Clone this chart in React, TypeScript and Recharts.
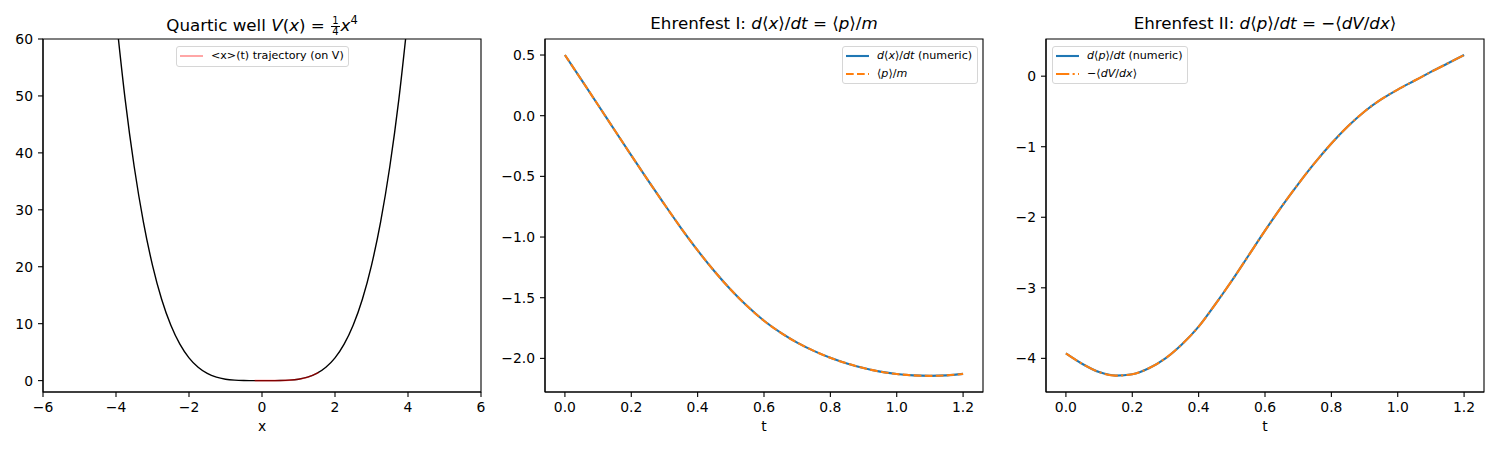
import React from "react";
import { LineChart, Line, XAxis, YAxis, ReferenceArea } from "recharts";

// time grid shared by both Ehrenfest panels
const tGrid = [
  0, 0.05, 0.1, 0.15, 0.2, 0.25, 0.3, 0.35, 0.4, 0.45, 0.5, 0.55, 0.6, 0.65,
  0.7, 0.75, 0.8, 0.85, 0.9, 0.95, 1.0, 1.05, 1.1, 1.15, 1.2,
];

const dxdtNumeric = [
  0.5, 0.295, 0.088, -0.12, -0.327, -0.531, -0.731, -0.926, -1.11, -1.28,
  -1.434, -1.571, -1.69, -1.788, -1.87, -1.938, -1.995, -2.042, -2.08, -2.109,
  -2.129, -2.14, -2.144, -2.14, -2.128,
];
const pOverM = [
  0.5, 0.295, 0.088, -0.12, -0.327, -0.531, -0.731, -0.926, -1.11, -1.28,
  -1.434, -1.571, -1.69, -1.788, -1.87, -1.938, -1.995, -2.042, -2.08, -2.109,
  -2.129, -2.14, -2.144, -2.14, -2.128,
];

const dpdtNumeric = [
  -3.93, -4.08, -4.195, -4.245, -4.225, -4.14, -4.0, -3.8, -3.55, -3.235,
  -2.9, -2.545, -2.19, -1.85, -1.53, -1.23, -0.955, -0.71, -0.5, -0.33,
  -0.19, -0.065, 0.06, 0.18, 0.3,
];
const minusDVdx = [
  -3.93, -4.08, -4.195, -4.245, -4.225, -4.14, -4.0, -3.8, -3.55, -3.235,
  -2.9, -2.545, -2.19, -1.85, -1.53, -1.23, -0.955, -0.71, -0.5, -0.33,
  -0.19, -0.065, 0.06, 0.18, 0.3,
];

// quartic well, V(x)
const wellX = [
  -4, -3.75, -3.5, -3.25, -3, -2.75, -2.5, -2.25, -2, -1.75, -1.5, -1.25, -1,
  -0.75, -0.5, -0.25, 0, 0.25, 0.5, 0.75, 1, 1.25, 1.5, 1.75, 2, 2.25, 2.5,
  2.75, 3, 3.25, 3.5, 3.75, 4,
];
const wellV = [
  64, 49.44, 37.52, 27.89, 20.25, 14.3, 9.77, 6.41, 4.0, 2.345, 1.266, 0.61,
  0.25, 0.079, 0.016, 0.001, 0, 0.001, 0.016, 0.079, 0.25, 0.61, 1.266, 2.345,
  4.0, 6.41, 9.77, 14.3, 20.25, 27.89, 37.52, 49.44, 64,
];

// <x>(t) trajectory drawn on V
const trajX = [-0.2, 0, 0.25, 0.5, 0.75, 1.0, 1.25, 1.5, 1.55];
const trajV = [0.0004, 0, 0.001, 0.016, 0.079, 0.25, 0.61, 1.266, 1.43];

const wellTicksX = [-6, -4, -2, 0, 2, 4, 6];
const wellTicksY = [0, 10, 20, 30, 40, 50, 60];
const tTicks = [0, 0.2, 0.4, 0.6, 0.8, 1.0, 1.2];
const ehr1TicksY = [0.5, 0, -0.5, -1, -1.5, -2];
const ehr2TicksY = [0, -1, -2, -3, -4];

const wellData = wellX.map((x, i) => ({ x, v: wellV[i] }));
const trajData = trajX.map((x, i) => ({ x, v: trajV[i] }));
const ehr1Data = tGrid.map((t, i) => ({ t, num: dxdtNumeric[i], ana: pOverM[i] }));
const ehr2Data = tGrid.map((t, i) => ({ t, num: dpdtNumeric[i], ana: minusDVdx[i] }));

const FONT = "'DejaVu Sans', sans-serif";
const BLUE = "#1f77b4";
const ORANGE = "#ff7f0e";
const TOP = 39;
const BOTTOM = 392;
const YW = 50;
const PW = 438;

const fmt = (d: number) => (v: number) => v.toFixed(d).replace("-", "\u2212");

const tickStyle = { fontSize: 13.9, fill: "#000", fontFamily: FONT };
const tickLine = { stroke: "#000", strokeWidth: 1.1 };
const axisLine = { stroke: "#000", strokeWidth: 1.1 };

function Frame({ xd, yd }: { xd: number[]; yd: number[] }) {
  return (
    <ReferenceArea
      x1={xd[0]}
      x2={xd[1]}
      y1={yd[0]}
      y2={yd[1]}
      fill="none"
      fillOpacity={0}
      stroke="#000"
      strokeWidth={1.1}
      ifOverflow="visible"
    />
  );
}

function Frac() {
  return (
    <span
      style={{
        display: "inline-flex",
        flexDirection: "column",
        alignItems: "center",
        fontSize: 10,
        lineHeight: "10px",
        verticalAlign: "middle",
        margin: "0 1px",
      }}
    >
      <span style={{ borderBottom: "1px solid #000", padding: "0 1px" }}>1</span>
      <span>4</span>
    </span>
  );
}

function Title({ center, children }: { center: number; children: React.ReactNode }) {
  return (
    <div
      style={{
        position: "absolute",
        left: center - 250,
        width: 500,
        top: 13,
        textAlign: "center",
        fontFamily: FONT,
        fontSize: 16.7,
        color: "#000",
        whiteSpace: "nowrap",
      }}
    >
      {children}
    </div>
  );
}

interface LegendItem {
  color: string;
  dash?: string;
  width: number;
  label: React.ReactNode;
}

function Legend({ left, top, width, items }: { left: number; top: number; width: number; items: LegendItem[] }) {
  return (
    <div
      style={{
        position: "absolute",
        left,
        top,
        width,
        background: "rgba(255,255,255,0.8)",
        border: "1px solid #d6d6d6",
        borderRadius: 3,
        boxSizing: "border-box",
        padding: "0 0 1px 3px",
        fontFamily: FONT,
        fontSize: 11.1,
        color: "#000",
      }}
    >
      {items.map((it, i) => (
        <div key={i} style={{ display: "flex", alignItems: "center", height: 17.7, whiteSpace: "nowrap" }}>
          <svg width={23} height={6} style={{ marginRight: 8 }}>
            <line x1={0} x2={23} y1={3} y2={3} stroke={it.color} strokeWidth={it.width} strokeDasharray={it.dash} />
          </svg>
          <span>{it.label}</span>
        </div>
      ))}
    </div>
  );
}

const I = ({ children }: { children: React.ReactNode }) => <i>{children}</i>;

export default function App() {
  const wellXd = [-6, 6];
  const wellYd = [-2, 60];
  const tXd = [-0.06, 1.26];
  const e1Yd = [-2.277, 0.632];
  const e2Yd = [-4.477, 0.527];

  const chartProps = (w: number) => ({
    width: w,
    height: 450,
    margin: { top: TOP, right: 5, bottom: 0, left: 0 },
  });

  return (
    <div style={{ position: "absolute", left: 0, top: 0, width: 1500, height: 450, background: "#fff", overflow: "hidden" }}>
      {/* panel 1: quartic well */}
      <div style={{ position: "absolute", left: 43 - YW, top: 0 }}>
        <LineChart {...chartProps(YW + PW + 5)}>
          <XAxis
            type="number"
            dataKey="x"
            domain={wellXd}
            ticks={wellTicksX}
            allowDataOverflow
            height={450 - BOTTOM}
            tick={tickStyle}
            tickLine={tickLine}
            axisLine={axisLine}
            tickSize={5}
            tickMargin={5}
            tickFormatter={fmt(0)}
            label={{ value: "x", position: "insideBottom", offset: 19, fill: "#000", fontSize: 13.9, fontFamily: FONT }}
          />
          <YAxis
            type="number"
            domain={wellYd}
            ticks={wellTicksY}
            allowDataOverflow
            width={YW}
            tick={tickStyle}
            tickLine={tickLine}
            axisLine={axisLine}
            tickSize={5}
            tickMargin={5}
            tickFormatter={fmt(0)}
          />
          <Line data={wellData} dataKey="v" type="monotone" stroke="#000" strokeWidth={1.4} dot={false} isAnimationActive={false} />
          <Line data={trajData} dataKey="v" type="monotone" stroke="rgba(255,0,0,0.5)" strokeWidth={1.6} dot={false} isAnimationActive={false} />
          <Frame xd={wellXd} yd={wellYd} />
        </LineChart>
      </div>

      {/* panel 2: Ehrenfest I */}
      <div style={{ position: "absolute", left: 545 - YW, top: 0 }}>
        <LineChart data={ehr1Data} {...chartProps(YW + PW + 5)}>
          <XAxis
            type="number"
            dataKey="t"
            domain={tXd}
            ticks={tTicks}
            allowDataOverflow
            height={450 - BOTTOM}
            tick={tickStyle}
            tickLine={tickLine}
            axisLine={axisLine}
            tickSize={5}
            tickMargin={5}
            tickFormatter={fmt(1)}
            label={{ value: "t", position: "insideBottom", offset: 19, fill: "#000", fontSize: 13.9, fontFamily: FONT }}
          />
          <YAxis
            type="number"
            domain={e1Yd}
            ticks={ehr1TicksY}
            allowDataOverflow
            width={YW}
            tick={tickStyle}
            tickLine={tickLine}
            axisLine={axisLine}
            tickSize={5}
            tickMargin={5}
            tickFormatter={fmt(1)}
          />
          <Line dataKey="num" type="monotone" stroke={BLUE} strokeWidth={2.1} dot={false} isAnimationActive={false} />
          <Line dataKey="ana" type="monotone" stroke={ORANGE} strokeWidth={2.1} strokeDasharray="7.7 3.3" dot={false} isAnimationActive={false} />
          <Frame xd={tXd} yd={e1Yd} />
        </LineChart>
      </div>

      {/* panel 3: Ehrenfest II */}
      <div style={{ position: "absolute", left: 1046 - YW, top: 0 }}>
        <LineChart data={ehr2Data} {...chartProps(YW + PW + 5)}>
          <XAxis
            type="number"
            dataKey="t"
            domain={tXd}
            ticks={tTicks}
            allowDataOverflow
            height={450 - BOTTOM}
            tick={tickStyle}
            tickLine={tickLine}
            axisLine={axisLine}
            tickSize={5}
            tickMargin={5}
            tickFormatter={fmt(1)}
            label={{ value: "t", position: "insideBottom", offset: 19, fill: "#000", fontSize: 13.9, fontFamily: FONT }}
          />
          <YAxis
            type="number"
            domain={e2Yd}
            ticks={ehr2TicksY}
            allowDataOverflow
            width={YW}
            tick={tickStyle}
            tickLine={tickLine}
            axisLine={axisLine}
            tickSize={5}
            tickMargin={5}
            tickFormatter={fmt(0)}
          />
          <Line dataKey="num" type="monotone" stroke={BLUE} strokeWidth={2.1} dot={false} isAnimationActive={false} />
          <Line dataKey="ana" type="monotone" stroke={ORANGE} strokeWidth={2.1} strokeDasharray="13.3 3.3 2.1 3.3" dot={false} isAnimationActive={false} />
          <Frame xd={tXd} yd={e2Yd} />
        </LineChart>
      </div>

      <Title center={262}>
        Quartic well <I>V</I>(<I>x</I>) = <Frac />
        <I>x</I>
        <sup style={{ fontSize: 11.5 }}>4</sup>
      </Title>
      <Title center={764}>
        Ehrenfest I: <I>d</I>⟨<I>x</I>⟩/<I>dt</I> = ⟨<I>p</I>⟩/<I>m</I>
      </Title>
      <Title center={1265}>
        Ehrenfest II: <I>d</I>⟨<I>p</I>⟩/<I>dt</I> = −⟨<I>dV</I>/<I>dx</I>⟩
      </Title>

      <Legend
        left={176}
        top={46}
        width={173}
        items={[{ color: "rgba(255,0,0,0.5)", width: 1.4, label: "<x>(t) trajectory (on V)" }]}
      />
      <Legend
        left={842}
        top={46}
        width={136}
        items={[
          { color: BLUE, width: 2.1, label: <><I>d</I>⟨<I>x</I>⟩/<I>dt</I> (numeric)</> },
          { color: ORANGE, width: 2.1, dash: "7.7 3.3", label: <>⟨<I>p</I>⟩/<I>m</I></> },
        ]}
      />
      <Legend
        left={1052}
        top={46}
        width={136}
        items={[
          { color: BLUE, width: 2.1, label: <><I>d</I>⟨<I>p</I>⟩/<I>dt</I> (numeric)</> },
          { color: ORANGE, width: 2.1, dash: "13.3 3.3 2.1 3.3", label: <>−⟨<I>dV</I>/<I>dx</I>⟩</> },
        ]}
      />
    </div>
  );
}
